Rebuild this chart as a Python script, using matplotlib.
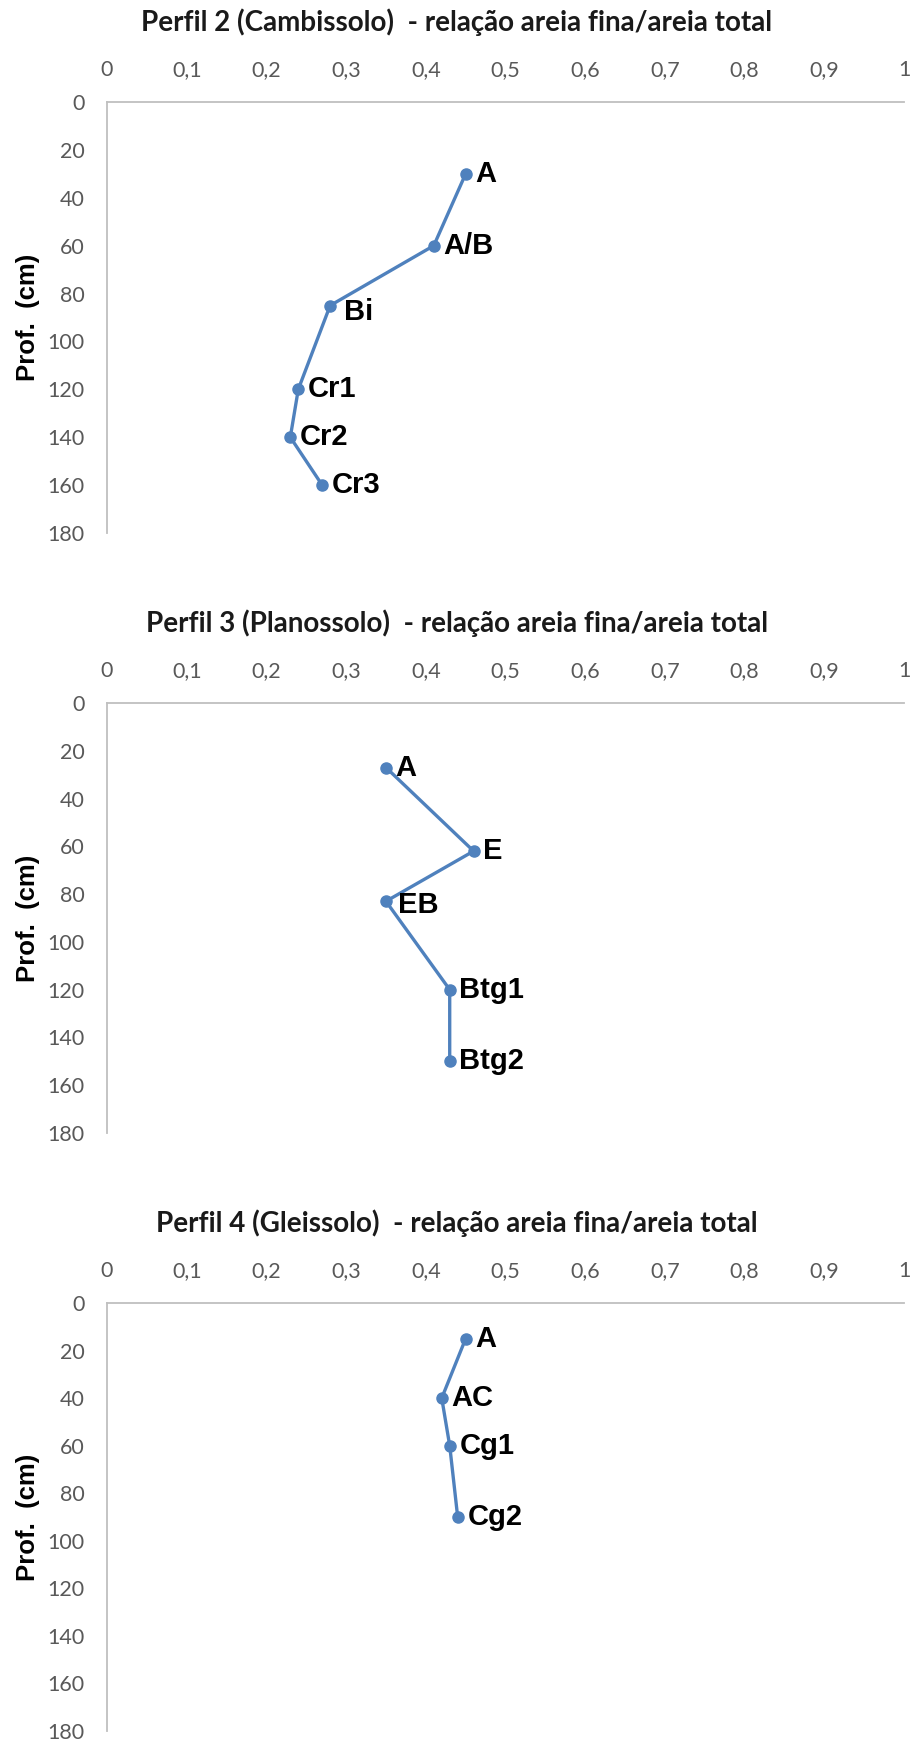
import numpy as np
import matplotlib
matplotlib.use('Agg')
import matplotlib.pyplot as plt
from matplotlib.ticker import FuncFormatter

# perfil 2 (Cambissolo)
p2_horiz = ['A', 'A/B', 'Bi', 'Cr1', 'Cr2', 'Cr3']
p2_ratio = [0.45, 0.41, 0.28, 0.24, 0.23, 0.27]
p2_depth = [30, 60, 85, 120, 140, 160]

# perfil 3 (Planossolo)
p3_horiz = ['A', 'E', 'EB', 'Btg1', 'Btg2']
p3_ratio = [0.35, 0.46, 0.35, 0.43, 0.43]
p3_depth = [27, 62, 83, 120, 150]

# perfil 4 (Gleissolo)
p4_horiz = ['A', 'AC', 'Cg1', 'Cg2']
p4_ratio = [0.45, 0.42, 0.43, 0.44]
p4_depth = [15, 40, 60, 90]

titles = ['Perfil 2 (Cambissolo)  - relação areia fina/areia total',
          'Perfil 3 (Planossolo)  - relação areia fina/areia total',
          'Perfil 4 (Gleissolo)  - relação areia fina/areia total']

LINE = '#4F81BD'
SPINE = '#BFBFBF'
TICK = '#595959'
THIN = ['Lato', 'DejaVu Sans']
BOLD = ['Liberation Sans', 'DejaVu Sans']

W, H = 914, 1744
fig = plt.figure(figsize=(W / 100, H / 100), dpi=100)

# pixel layout of each panel: axis top, axis bottom, title centre
frames = [(102, 533, 22), (703, 1133, 623), (1303, 1731, 1223)]
left, right = 107, 904

profiles = [(p2_horiz, p2_ratio, p2_depth),
            (p3_horiz, p3_ratio, p3_depth),
            (p4_horiz, p4_ratio, p4_depth)]

# label nudges (points) for the few that sit off the default spot
nudge = {'Bi': (10, -5), 'EB': (9, -3)}

comma = FuncFormatter(lambda v, pos: ('%g' % round(v, 1)).replace('.', ','))

for (top, bot, ty), title, (hz, xr, dp) in zip(frames, titles, profiles):
    ax = fig.add_axes([left / W, 1 - bot / H, (right - left) / W, (bot - top) / H])
    ax.plot(xr, dp, color=LINE, lw=2.4, marker='o', ms=8, clip_on=False)
    for name, x, y in zip(hz, xr, dp):
        ax.annotate(name, (x, y), xytext=nudge.get(name, (7, 0)), textcoords='offset points',
                    ha='left', va='center', fontsize=21, fontweight='bold',
                    family=BOLD, color='black')

    ax.set_xlim(0, 1)
    ax.set_ylim(180, 0)
    ax.set_xticks(np.arange(0, 1.01, 0.1))
    ax.set_yticks(np.arange(0, 181, 20))
    ax.xaxis.set_major_formatter(comma)
    ax.xaxis.tick_top()
    ax.tick_params(length=0, labelsize=15.5, labelcolor=TICK)
    ax.tick_params(axis='x', pad=16)
    ax.tick_params(axis='y', pad=16)
    for lab in ax.get_xticklabels() + ax.get_yticklabels():
        lab.set_family(THIN)

    for side in ['right', 'bottom']:
        ax.spines[side].set_visible(False)
    for side in ['left', 'top']:
        ax.spines[side].set_color(SPINE)
        ax.spines[side].set_linewidth(1.3)

    ax.set_ylabel('Prof.  (cm)', fontsize=18.5, fontweight='bold', family=BOLD)
    ax.yaxis.set_label_coords((40 - left) / (right - left), 0.5)

    fig.text(0.5, 1 - ty / H, title, ha='center', va='center', fontsize=20,
             fontweight='bold', family=THIN, color='#1a1a1a')

fig.savefig('out.png', dpi=100)
